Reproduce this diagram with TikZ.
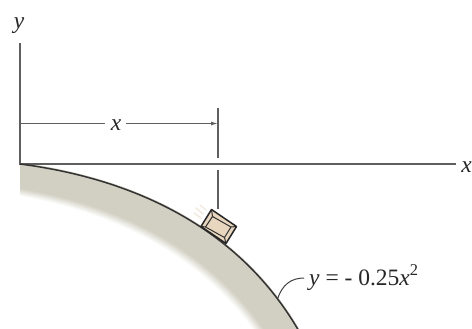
\documentclass[tikz,border=0pt]{standalone}
\usepackage{fontspec}
\setmainfont{Liberation Serif}
\usetikzlibrary{arrows.meta}
\definecolor{band}{RGB}{210,208,194}
\definecolor{axisgray}{RGB}{95,95,95}
\definecolor{crate}{RGB}{232,214,190}
\definecolor{streak}{RGB}{242,234,222}
\begin{document}
\begin{tikzpicture}[x=1pt,y=-1pt,
  axisline/.style={draw=axisgray,line width=2pt},
  thinline/.style={draw=axisgray,line width=1.1pt},
  crateedge/.style={draw=black!85,line width=1.5pt,line join=round},
  crateinner/.style={draw=black!80,line width=1pt,line join=round},
  lbl/.style={inner sep=0pt,font=\fontsize{23.5}{27}\selectfont\itshape,text=black!85}]
\useasboundingbox (0,0) rectangle (472,329);
\clip (0,0) rectangle (472,329);

% shaded ground under the slope, fading away from the surface
\begin{scope}
  \clip (20,164) rectangle (472,329);
  \foreach \i in {36,35,...,0}{
    \pgfmathsetmacro\pct{\i>27 ? 100*(36-\i)/9 : 100}
    \draw[line width=2.6pt,color=band!\pct!white,shift={(-0.72*\i,0.76*\i)}]
      (20,164) .. controls (120,177) and (235,219) .. (300,333);
  }
\end{scope}

% axes
\coordinate (O) at (20,164);
\coordinate (ytop) at (20,43);
\coordinate (xend) at (456,164);
\draw[axisline] (ytop) -- (O) -- (xend);
\node[lbl,anchor=base] (ylab) at (19,29) {y};
\node[lbl,anchor=base east] (xlab) at (472,172) {x};

% slope surface
\draw[draw=black!80,line width=1.5pt] (O) .. controls (120,177) and (235,219) .. (300,333);

% dimension x
\coordinate (d0) at (20,123.5);
\coordinate (d1) at (218,123.5);
\node[lbl] (dlab) at (116,125.5) {x};
\draw[thinline] (d0) -- (105,123.5);
\draw[thinline,-{Latex[length=7pt,width=4pt]}] (126,123.5) -- (d1);
\coordinate (e0) at (218,108);
\coordinate (e1) at (218,158);
\coordinate (e2) at (218,170);
\coordinate (e3) at (218,209);
\draw[thinline] (e0) -- (e1);
\draw[thinline] (e2) -- (e3);

% crate on the slope
\coordinate (oL) at (201,226.5);
\coordinate (oT) at (211.5,209.5);
\coordinate (oR) at (236.5,226.5);
\coordinate (oB) at (226,243.5);
\coordinate (iL) at (205.5,227);
\coordinate (iT) at (212.5,216.5);
\coordinate (iR) at (231,227);
\coordinate (iB) at (224.5,237.5);
\draw[streak,line width=1.6pt,line cap=round] (203,214) -- (196,208);
\draw[streak,line width=1.6pt,line cap=round] (201,218) -- (194,213);
\draw[streak,line width=1.4pt,line cap=round] (206,210) -- (200,205);
\fill[crate] (oL) -- (oT) -- (oR) -- (oB) -- cycle;
\draw[crateinner] (iL) -- (iT) -- (iR) -- (iB) -- cycle;
\draw[crateinner] (oL) -- (iL) (oT) -- (iT) (oR) -- (iR) (oB) -- (iB);
\draw[crateedge] (oL) -- (oT) -- (oR) -- (oB) -- cycle;

% curve label with leader
\node[lbl,anchor=base west,font=\fontsize{23.5}{27}\selectfont] (eq) at (309,285)
  {\textit{y} = - 0.25\textit{x}\textsuperscript{2}};
\coordinate (lp) at (277.5,299);
\draw[draw=black!75,line width=1pt] (lp) .. controls (282,285) and (291,278) .. (304,278);
\end{tikzpicture}
\end{document}
